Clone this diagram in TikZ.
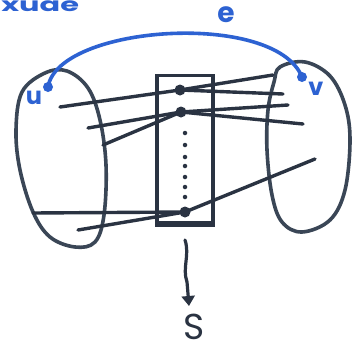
\documentclass[tikz,border=0pt]{standalone}
\usepackage{fontspec}
\setmainfont{Poppins}
\usetikzlibrary{arrows.meta}
\definecolor{ink}{HTML}{2A3342}
\definecolor{inkb}{HTML}{3A4656}
\definecolor{pen}{HTML}{2D62D2}
\tikzset{
  blob/.style={draw=inkb, line width=3.6pt, line cap=round, line join=round},
  wire/.style={draw=ink, line width=3.4pt, line cap=round},
  bigdot/.style={circle, fill=ink, inner sep=0pt, minimum size=11pt},
  smalldot/.style={circle, fill=ink, inner sep=0pt, minimum size=4.5pt},
  bluedot/.style={circle, fill=pen, inner sep=0pt, minimum size=10pt},
  endpt/.style={coordinate},
  lbl/.style={text=pen, inner sep=0pt}
}
\begin{document}
\begin{tikzpicture}[x=1pt, y=-1pt]
\useasboundingbox[fill=white] (0,0) rectangle (353,356);
% partial text at top
\node[lbl, font=\bfseries\fontsize{19}{19}\selectfont, anchor=base west, xscale=1.6] (top) at (1,12) {xuae};
% blobs
\draw[blob] plot[smooth cycle, tension=0.6] coordinates {(45,73) (67,71) (88,88) (100,120) (106,165) (104,215) (95,242) (75,247) (50,237) (33,212) (20,170) (16,130) (22,92)};
\draw[blob] plot[smooth cycle, tension=0.6] coordinates {(280,67) (305,62) (330,76) (345,105) (350,140) (345,190) (330,220) (302,232) (282,222) (272,195) (267,150) (268,110) (274,82)};
% central box
\node[draw=ink, line width=3.4pt, minimum width=56pt, minimum height=147pt, inner sep=0pt] (box) at (185,149) {};
\draw[ink, line width=5pt] (box.south west) -- (box.south east);
% endpoints
\node[endpt] (L1) at (60,107) {};
\node[endpt] (L2) at (88,128) {};
\node[endpt] (L3) at (103,145) {};
\node[endpt] (L4) at (33,213) {};
\node[endpt] (L5) at (78,230) {};
\node[endpt] (R1) at (273,75) {};
\node[endpt] (R2) at (283,94) {};
\node[endpt] (R3) at (288,105) {};
\node[endpt] (R4) at (303,124) {};
\node[endpt] (R5) at (315,159) {};
% dots
\node[bigdot] (d1) at (180,90) {};
\node[bigdot] (d2) at (181,112) {};
\node[bigdot] (d3) at (185,212) {};
\foreach \yy [count=\i] in {133,145,157,166,177,187,197} {\node[smalldot] (m\i) at (185,\yy) {};}
% wires
\draw[wire] (L1) -- (d1.center) -- (R1);
\draw[wire] (d1.center) -- (R2);
\draw[wire] (L2) -- (d2.center) -- (R3);
\draw[wire] (L3) -- (d2.center) -- (R4);
\draw[wire] (L4) -- (d3.center) -- (R5);
\draw[wire] (L5) -- (d3.center);
% blue edge
\node[bluedot] (u) at (48,87) {};
\node[bluedot] (v) at (302,77) {};
\draw[pen, line width=3.6pt] (u.center) .. controls (58,25) and (275,10) .. (v.center);
\node[lbl, font=\bfseries\fontsize{24}{24}\selectfont] (ul) at (34,98) {u};
\node[lbl, font=\bfseries\fontsize{24}{24}\selectfont] (vl) at (316,89) {v};
\node[lbl, font=\bfseries\fontsize{28}{28}\selectfont] (el) at (226,15) {e};
% S
\node[text=ink, inner sep=0pt, font=\fontsize{36}{36}\selectfont] (S) at (194,327) {S};
\node[endpt] (s0) at (185,240) {};
\draw[ink, line width=3.2pt, line cap=round, -{Triangle[width=13pt,length=10pt]}] (s0) .. controls (190,255) and (182,268) .. (187,282) -- (189,306);
\end{tikzpicture}
\end{document}
